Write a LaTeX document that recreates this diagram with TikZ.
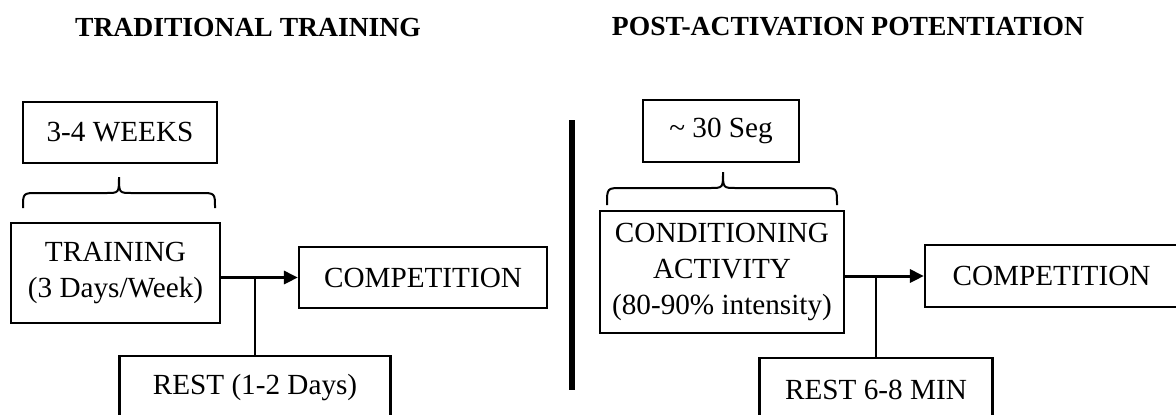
\documentclass[tikz,border=0pt]{standalone}
\usepackage{fontspec}
\setmainfont{Liberation Serif}
\usetikzlibrary{arrows.meta,calc}

\begin{document}
\begin{tikzpicture}[x=0.5pt, y=-0.5pt,
  font=\fontsize{14.6}{18}\selectfont,
  box/.style={draw, line width=1.1pt, inner sep=0pt, align=center},
  head/.style={font=\fontsize{13.8}{17}\selectfont\bfseries},
  arr/.style={-{Triangle[length=7pt, width=6.5pt]}, line width=1.5pt},
  tie/.style={line width=1pt},
  curly/.style={line width=1pt},
]
\useasboundingbox (0,0) rectangle (1176,414);
% traditional training
\node[head] (tradhead) at (248,27) {TRADITIONAL TRAINING};
\node[box, minimum width=97pt, minimum height=30.5pt] (weeks) at (120,132.5) {3-4 WEEKS};
\node[box, minimum width=104.5pt, minimum height=50pt] (training) at (115.5,273) {TRAINING\\(3 Days/Week)};
\node[box, minimum width=124pt, minimum height=30.5pt] (comp1) at (423,277.5) {COMPETITION};
\node[box, minimum width=135.5pt, minimum height=32pt] (rest1) at (255,388) {REST (1-2 Days)};
\draw[curly] (23,208) .. controls (23,193) .. (38,193) -- (106,193) .. controls (119,193) .. (119,177)
  .. controls (119,193) .. (132,193) -- (200,193) .. controls (215,193) .. (215,208);
\draw[arr] (training.east |- comp1.west) -- (comp1.west);
\draw[tie] (rest1.north) -- (rest1.north |- comp1.west);
% divider
\coordinate (divtop) at (572,120);
\coordinate (divbot) at (572,390);
\draw[line width=2.8pt] (divtop) -- (divbot);
% post-activation potentiation
\node[head] (paphead) at (848,27) {POST-ACTIVATION POTENTIATION};
\node[box, minimum width=78pt, minimum height=31pt] (seg) at (721,131) {\textasciitilde{} 30 Seg};
\node[box, minimum width=122pt, minimum height=61pt] (cond) at (722,272) {CONDITIONING\\ACTIVITY\\(80-90\% intensity)};
\node[box, minimum width=126.5pt, minimum height=31pt] (comp2) at (1051.5,276) {COMPETITION};
\node[box, minimum width=116.5pt, minimum height=32pt] (rest2) at (876,390) {REST 6-8 MIN};
\draw[curly] (607,205) .. controls (607,188) .. (622,188) -- (710,188) .. controls (723,188) .. (723,172)
  .. controls (723,188) .. (736,188) -- (822,188) .. controls (837,188) .. (837,205);
\draw[arr] (cond.east |- comp2.west) -- (comp2.west);
\draw[tie] (rest2.north) -- (rest2.north |- comp2.west);
\end{tikzpicture}
\end{document}
